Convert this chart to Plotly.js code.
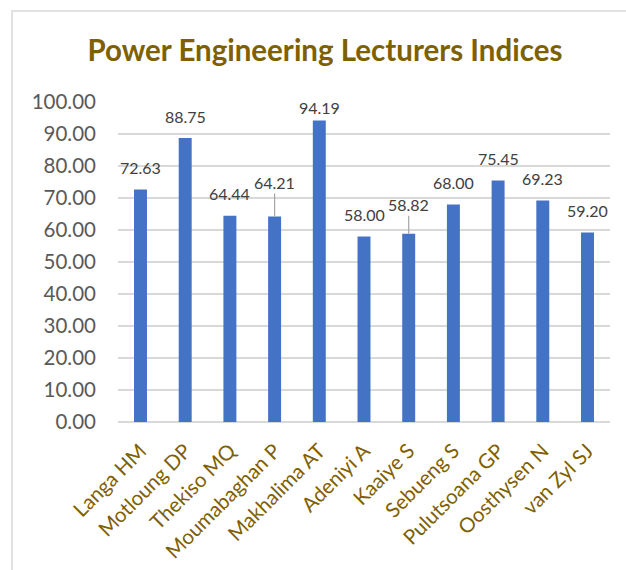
<!DOCTYPE html>
<html>
<head>
<meta charset="utf-8">
<script src="https://cdn.plot.ly/plotly-3.0.1.min.js"></script>
<style>
  html, body { margin: 0; padding: 0; background: #ffffff; }
  #chart { width: 626px; height: 570px; }
</style>
</head>
<body>
<div id="chart"></div>
<script>
// ---- data ----
const lecturers = ["Langa HM", "Motloung DP", "Thekiso MQ", "Moumabaghan P", "Makhalima AT",
                   "Adeniyi A", "Kaaiye S", "Sebueng S", "Pulutsoana GP", "Oosthysen N", "van Zyl SJ"];
const indices = [72.63, 88.75, 64.44, 64.21, 94.19, 58.00, 58.82, 68.00, 75.45, 69.23, 59.20];
const yTickValues = [0, 10, 20, 30, 40, 50, 60, 70, 80, 90, 100];
const chartTitle = "Power Engineering Lecturers Indices";

// ---- styling ----
const FONT = "Lato, 'Open Sans', sans-serif";
const GOLD = "#7f6000";
const normalOffset = 22;
const leaderOffsets = { 3: 34, 6: 29 };   // labels pulled up with leader lines
const customOffsets = { 4: 13 };          // label kept inside the plot area

const annotations = lecturers.map((c, i) => {
  const hasLeader = Object.prototype.hasOwnProperty.call(leaderOffsets, i);
  const custom = Object.prototype.hasOwnProperty.call(customOffsets, i);
  const off = hasLeader ? leaderOffsets[i] : (custom ? customOffsets[i] : normalOffset);
  return {
    x: c, y: indices[i], xref: "x", yref: "y",
    text: indices[i].toFixed(2),
    showarrow: true, arrowhead: 0, arrowwidth: 1.2, standoff: 0,
    arrowcolor: hasLeader ? "#a6a6a6" : "rgba(0,0,0,0)",
    ax: 0, ay: -off,
    font: { family: FONT, size: 16, color: "#404040" }
  };
});

const trace = {
  type: "bar",
  x: lecturers,
  y: indices,
  marker: { color: "#4472c4", line: { width: 0 } },
  hoverinfo: "x+y"
};

const layout = {
  width: 626, height: 570,
  margin: { l: 118, r: 16, t: 102, b: 148 },
  paper_bgcolor: "#ffffff",
  plot_bgcolor: "#ffffff",
  bargap: 0.71,
  showlegend: false,
  title: {
    text: chartTitle,
    x: 0.519, xanchor: "center",
    y: 0.911, yanchor: "middle",
    font: { family: FONT, size: 29.5, color: GOLD, weight: "bold" }
  },
  xaxis: {
    type: "category",
    tickangle: -45,
    tickfont: { family: FONT, size: 20.5, color: GOLD },
    showgrid: false, showline: false, zeroline: false,
    ticks: "", ticklabelstandoff: 12
  },
  yaxis: {
    range: [0, 100],
    tickvals: yTickValues,
    ticktext: yTickValues.map(v => v.toFixed(2)),
    tickfont: { family: FONT, size: 20.5, color: "#595959" },
    showgrid: true, gridcolor: "#d9d9d9", gridwidth: 1.5,
    zeroline: true, zerolinecolor: "#d9d9d9", zerolinewidth: 1.5,
    showline: false, ticks: "", ticklabelstandoff: 21
  },
  annotations: annotations,
  shapes: [{
    type: "rect", xref: "paper", yref: "paper",
    x0: -0.2155, x1: 1.2, y0: -1, y1: 1.2845,
    line: { color: "#d9d9d9", width: 1.5 },
    fillcolor: "rgba(0,0,0,0)", layer: "below"
  }]
};

Plotly.newPlot("chart", [trace], layout, { staticPlot: true, displayModeBar: false });
</script>
</body>
</html>
